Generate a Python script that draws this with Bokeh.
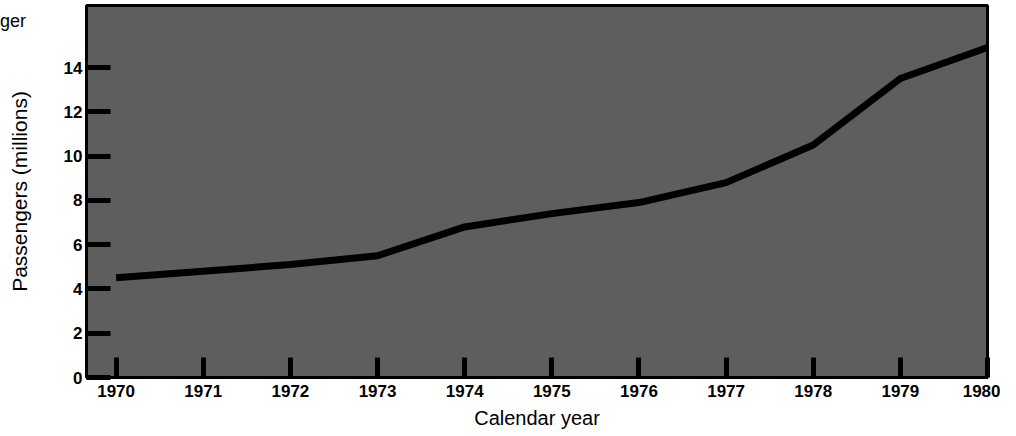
from bokeh.plotting import figure
from bokeh.models import Range1d, FixedTicker, Div
from bokeh.layouts import column
from bokeh.embed import file_html
from bokeh.resources import INLINE

years = [1970, 1971, 1972, 1973, 1974, 1975, 1976, 1977, 1978, 1979, 1980]
passengers = [4.5, 4.8, 5.1, 5.5, 6.8, 7.4, 7.9, 8.8, 10.5, 13.5, 14.9]
y_ticks = [0, 2, 4, 6, 8, 10, 12, 14]
x_ticks = years
corner_text = "ger"

FONT = "Liberation Sans"

p = figure(width=1000, height=435, output_backend="svg", toolbar_location=None,
           x_range=Range1d(1969.66, 1980.0), y_range=Range1d(0, 16.8),
           min_border_left=86, min_border_right=13, min_border_top=5, min_border_bottom=58)

p.background_fill_color = "#5e5e5e"
p.border_fill_color = "white"
p.outline_line_color = "black"
p.outline_line_width = 3
p.grid.visible = False

p.line(years, passengers, line_color="black", line_width=7)

# x axis
xa = p.xaxis[0]
xa.ticker = FixedTicker(ticks=x_ticks)
xa.major_tick_in = 20
xa.major_tick_out = 0
xa.major_tick_line_width = 5
xa.minor_tick_line_color = None
xa.axis_line_width = 3
xa.major_label_text_font = FONT
xa.major_label_text_font_style = "bold"
xa.major_label_text_font_size = "17px"
xa.major_label_text_color = "black"
xa.major_label_standoff = 7
xa.axis_label = "Calendar year"
xa.axis_label_text_font = FONT
xa.axis_label_text_font_style = "normal"
xa.axis_label_text_font_size = "20px"
xa.axis_label_text_color = "black"
xa.axis_label_standoff = 7

# y axis
ya = p.yaxis[0]
ya.ticker = FixedTicker(ticks=y_ticks)
ya.major_tick_in = 24
ya.major_tick_out = 0
ya.major_tick_line_width = 5
ya.minor_tick_line_color = None
ya.axis_line_width = 3
ya.major_label_text_font = FONT
ya.major_label_text_font_style = "bold"
ya.major_label_text_font_size = "17px"
ya.major_label_text_color = "black"
ya.major_label_standoff = 4
ya.axis_label = "Passengers (millions)"
ya.axis_label_text_font = FONT
ya.axis_label_text_font_style = "normal"
ya.axis_label_text_font_size = "21px"
ya.axis_label_text_color = "black"
ya.axis_label_standoff = 30

corner = Div(text=('<span style="position:relative; top:9px; left:0px; '
                   'font-family:\'Liberation Sans\'; font-size:18px; color:black;">'
                   + corner_text + '</span>'),
             width=60, height=0, margin=0,
             styles={"overflow": "visible", "position": "relative", "z-index": "5"})

layout = column(corner, p, spacing=0)

open("out.html", "w").write(file_html(layout, INLINE))
